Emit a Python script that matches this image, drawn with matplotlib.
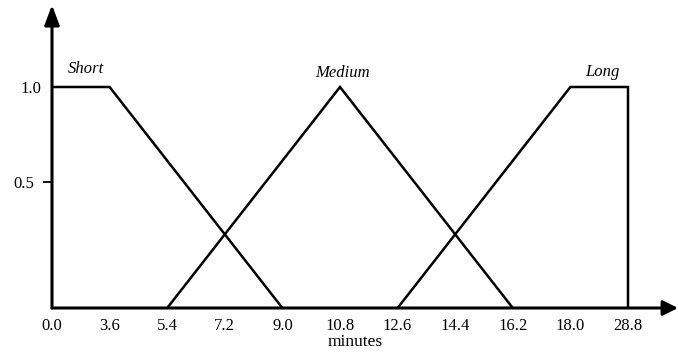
import matplotlib.pyplot as plt
import numpy as np

# tick labels along x (evenly spaced in the figure, not to scale)
x_labels = ["0.0", "3.6", "5.4", "7.2", "9.0", "10.8", "12.6", "14.4", "16.2", "18.0", "28.8"]

# membership functions: index into x_labels -> membership degree
short_x = [0, 1, 4]
short_y = [1.0, 1.0, 0.0]
medium_x = [2, 5, 8]
medium_y = [0.0, 1.0, 0.0]
long_x = [6, 9, 10, 10]
long_y = [0.0, 1.0, 1.0, 0.0]

set_names = ["Short", "Medium", "Long"]

plt.rcParams['font.family'] = ['Liberation Serif', 'DejaVu Serif']

fig = plt.figure(figsize=(6.78, 3.54), dpi=100)
ax = fig.add_axes([52 / 678, 46 / 354, 626 / 678, 303 / 354])
ax.set_xlim(0, 626 / 57.6)
ax.set_ylim(0, 303 / 221)

lw = 1.8
for xs, ys in [(short_x, short_y), (medium_x, medium_y), (long_x, long_y)]:
    ax.plot(xs, ys, color='black', lw=lw, solid_joinstyle='miter')

# set names above the peaks
name_pos = [(0.59, 1.08), (5.05, 1.062), (9.55, 1.07)]
for name, (px, py) in zip(set_names, name_pos):
    ax.text(px, py, name, style='italic', fontsize=12, ha='center', va='center')

# axes drawn as arrows
for s in ax.spines.values():
    s.set_visible(False)
ax.annotate('', xy=(0, 1), xytext=(0, 0), xycoords='axes fraction',
            arrowprops=dict(arrowstyle='-|>,head_length=1.2,head_width=0.45',
                            color='black', lw=2.2, shrinkA=0, shrinkB=0))
ax.annotate('', xy=(1, 0), xytext=(0, 0), xycoords='axes fraction',
            arrowprops=dict(arrowstyle='-|>,head_length=0.9,head_width=0.45',
                            color='black', lw=2.2, shrinkA=0, shrinkB=0))

ax.set_xticks(np.arange(len(x_labels)))
ax.set_xticklabels(x_labels, fontsize=12)
ax.tick_params(axis='x', length=0, pad=7)
ax.set_xlabel("minutes", fontsize=12.5)
ax.xaxis.set_label_coords((355 - 52) / 626, -0.085)

ax.set_yticks([0.57, 1.0])
ax.set_yticklabels(["0.5", "1.0"], fontsize=12)
ax.tick_params(axis='y', length=6.5, width=1.3, pad=6)
top_tick = ax.yaxis.get_major_ticks()[1]
top_tick.tick1line.set_visible(False)
top_tick.set_pad(1)

fig.savefig("out.png", dpi=100)
